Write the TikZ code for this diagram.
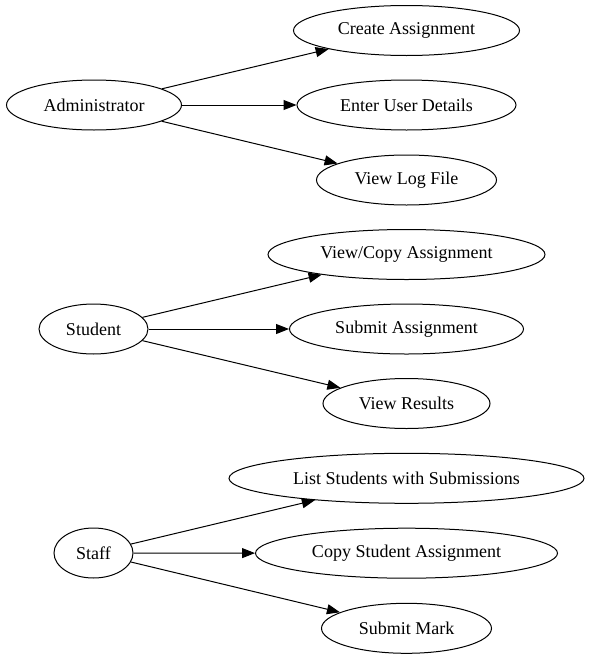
\documentclass[tikz,border=0pt]{standalone}
\usepackage{fontspec}
\setmainfont{Liberation Serif}
\usetikzlibrary{shapes.geometric,arrows.meta}
\tikzset{
  usecase/.style={draw, ellipse, line width=1pt, inner sep=0pt, minimum height=50pt, font=\fontsize{18}{21}\selectfont},
  edge/.style={line width=1pt, -{Triangle[length=13pt,width=10pt]}}
}
\begin{document}
\begin{tikzpicture}[x=1pt, y=-1pt]
\useasboundingbox (0,0) rectangle (589,659);
\node[usecase, minimum width=175pt] (P_0_0) at (94,105) {Administrator};
\node[usecase, minimum width=226pt] (P_1_0) at (406.5,30.5) {Create Assignment};
\draw[edge] (P_0_0) -- (P_1_0);
\node[usecase, minimum width=219pt] (P_1_1) at (406.5,105) {Enter User Details};
\draw[edge] (P_0_0) -- (P_1_1);
\node[usecase, minimum width=180pt] (P_1_2) at (406.5,180) {View Log File};
\draw[edge] (P_0_0) -- (P_1_2);
\node[usecase, minimum width=109pt] (P_0_3) at (93.5,329) {Student};
\node[usecase, minimum width=277pt] (P_1_3) at (406.5,254.5) {View/Copy Assignment};
\draw[edge] (P_0_3) -- (P_1_3);
\node[usecase, minimum width=234pt] (P_1_4) at (406.5,329) {Submit Assignment};
\draw[edge] (P_0_3) -- (P_1_4);
\node[usecase, minimum width=167pt] (P_1_5) at (406.5,403.5) {View Results};
\draw[edge] (P_0_3) -- (P_1_5);
\node[usecase, minimum width=79pt] (P_0_6) at (93.5,553) {Staff};
\node[usecase, minimum width=355pt] (P_1_6) at (406.5,478.3) {List Students with Submissions};
\draw[edge] (P_0_6) -- (P_1_6);
\node[usecase, minimum width=302pt] (P_1_7) at (406.5,553.2) {Copy Student Assignment};
\draw[edge] (P_0_6) -- (P_1_7);
\node[usecase, minimum width=170pt] (P_1_8) at (406.5,628.3) {Submit Mark};
\draw[edge] (P_0_6) -- (P_1_8);
\end{tikzpicture}
\end{document}
